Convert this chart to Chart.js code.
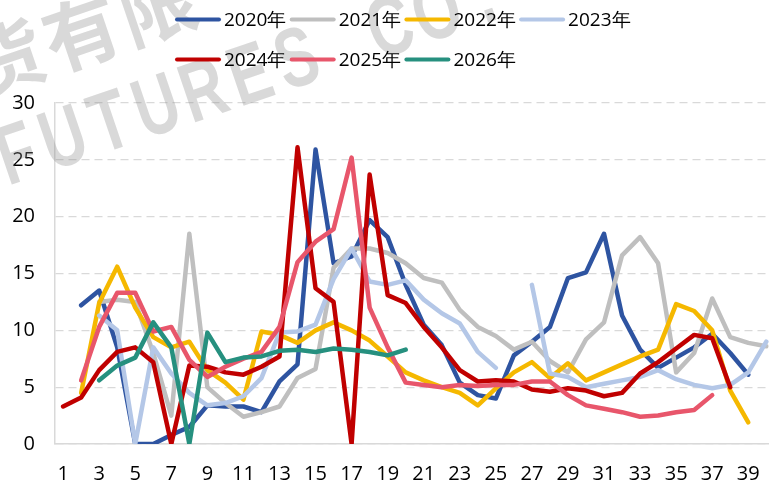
<!DOCTYPE html>
<html>
<head>
<meta charset="utf-8">
<script src="https://cdn.jsdelivr.net/npm/chart.js@4/dist/chart.umd.min.js"></script>
<style>
html,body{margin:0;padding:0;background:#fff;overflow:hidden;}
#wrap{width:769px;height:484px;position:relative;}
</style>
</head>
<body>
<div id="wrap"><canvas id="c" width="769" height="484"></canvas></div>
<script>
const categories = [1,2,3,4,5,6,7,8,9,10,11,12,13,14,15,16,17,18,19,20,21,22,23,24,25,26,27,28,29,30,31,32,33,34,35,36,37,38,39,40];
const tickLabels = [1,3,5,7,9,11,13,15,17,19,21,23,25,27,29,31,33,35,37,39];
const seriesNames = ['2020年','2021年','2022年','2023年','2024年','2025年','2026年'];

const s2020 = [null,12.2,13.5,8.5,0,0,0.8,1.5,3.4,3.3,3.3,2.8,5.5,7.0,25.9,15.9,16.5,19.7,18.2,14.0,10.5,8.7,5.4,4.3,4.0,7.8,9.0,10.3,14.6,15.1,18.5,11.3,8.3,6.7,7.6,8.5,9.7,8.0,6.1,null];
const s2021 = [null,null,12.5,12.7,12.5,8.0,2.5,18.5,5.0,3.6,2.4,2.8,3.3,5.8,6.6,15.5,17.2,17.2,16.8,15.9,14.6,14.2,11.8,10.3,9.5,8.3,9.0,7.3,6.3,9.2,10.7,16.6,18.2,15.9,6.3,8.0,12.8,9.4,8.9,8.6];
const s2022 = [null,4.5,12.4,15.6,12.0,9.4,8.5,9.0,6.5,5.4,3.9,9.9,9.6,8.9,10.0,10.7,10.0,9.1,7.7,6.3,5.6,5.0,4.5,3.4,4.9,6.3,7.2,5.8,7.1,5.6,6.3,7.0,7.7,8.3,12.3,11.7,10.0,4.7,1.9,null];
const s2023 = [null,null,11.3,10.0,0,8.5,6.2,4.5,3.4,3.6,4.2,5.8,9.8,9.9,10.5,14.5,17.2,14.3,14.0,14.4,12.7,11.5,10.6,8.1,6.7,null,14.0,6.2,5.9,5.0,5.3,5.6,5.9,6.5,5.7,5.2,4.9,5.2,6.3,9.0];
const s2024 = [3.3,4.1,6.5,8.1,8.5,7.2,0,6.9,6.8,6.3,6.1,6.8,7.7,26.1,13.7,12.5,0,23.7,13.1,12.4,10.3,8.5,6.5,5.5,5.6,5.5,4.8,4.6,4.9,4.7,4.2,4.5,6.2,7.2,8.4,9.6,9.3,5.0,null,null];
const s2025 = [null,5.6,10.3,13.3,13.3,9.9,10.3,7.4,5.9,6.8,7.5,8.1,10.3,16.0,17.8,18.9,25.2,12.0,8.5,5.4,5.2,5.0,5.2,5.1,5.2,5.2,5.5,5.5,4.3,3.4,3.1,2.8,2.4,2.5,2.8,3.0,4.3,null,null,null];
const s2026 = [null,null,5.6,6.9,7.6,10.7,8.5,0,9.8,7.2,7.6,7.7,8.2,8.3,8.1,8.4,8.3,8.1,7.8,8.3,null,null,null,null,null,null,null,null,null,null,null,null,null,null,null,null,null,null,null,null];

const allSeries = [s2020,s2021,s2022,s2023,s2024,s2025,s2026];
const colors = ['#2E54A1','#BFBFBF','#F5B800','#B4C7E7','#C00000','#E8566B','#26907F'];
const FONT = "'Open Sans', 'Noto Sans', sans-serif";

const datasets = allSeries.map((vals, i) => ({
  label: seriesNames[i],
  data: categories.map((c, j) => ({x: c, y: vals[j]})),
  borderColor: colors[i],
  backgroundColor: colors[i],
  borderWidth: 4.5,
  pointRadius: 0,
  pointHoverRadius: 0,
  tension: 0,
  spanGaps: false,
  borderJoinStyle: 'round',
  borderCapStyle: 'round',
  order: allSeries.length - i
}));

const watermark = {
  id: 'watermark',
  beforeDatasetsDraw(chart) {
    const ctx = chart.ctx;
    ctx.save();
    ctx.fillStyle = 'rgba(140,140,140,0.33)';
    ctx.textAlign = 'center';
    ctx.textBaseline = 'middle';
    const th = -18.8 * Math.PI / 180;
    const dx = Math.cos(th), dy = Math.sin(th);
    const latin = 'FUTURES CO.';
    ctx.font = "bold 84px 'Liberation Sans', sans-serif";
    for (let k = 0; k < latin.length; k++) {
      const ch = latin[k];
      if (ch === ' ') continue;
      const x = 18 + k * 49.3 * dx, y = 158 + k * 49.3 * dy;
      ctx.save(); ctx.translate(x, y); ctx.rotate(th); ctx.scale(0.72, 1); ctx.fillText(ch, 0, 0); ctx.restore();
    }
    const cn = '期货有限';
    ctx.font = "bold 76px 'Noto Sans CJK SC', sans-serif";
    for (let k = 0; k < cn.length; k++) {
      const x = -70 + k * 80 * dx, y = 84 + k * 80 * dy;
      ctx.save(); ctx.translate(x, y); ctx.rotate(th); ctx.fillText(cn[k], 0, 0); ctx.restore();
    }
    ctx.restore();
  }
};

const customLegend = {
  id: 'customLegend',
  afterDraw(chart) {
    const ctx = chart.ctx;
    ctx.save();
    ctx.font = "19px " + FONT;
    ctx.textBaseline = 'middle';
    ctx.textAlign = 'left';
    chart.data.datasets.forEach((ds, i) => {
      const row = i < 4 ? 0 : 1;
      const col = i < 4 ? i : i - 4;
      const x = 177 + col * 114.7;
      const y = row === 0 ? 19.5 : 59.5;
      ctx.strokeStyle = ds.borderColor;
      ctx.lineWidth = 4;
      ctx.lineCap = 'round';
      ctx.beginPath(); ctx.moveTo(x, y); ctx.lineTo(x + 42, y); ctx.stroke();
      ctx.fillStyle = '#000';
      ctx.fillText(ds.label, x + 47, y + 1);
    });
    ctx.restore();
  }
};

new Chart(document.getElementById('c'), {
  type: 'line',
  data: { datasets },
  options: {
    responsive: false,
    animation: false,
    devicePixelRatio: 1,
    layout: { padding: { top: 103, left: 0, right: 0, bottom: 0 } },
    plugins: { legend: { display: false }, tooltip: { enabled: false } },
    scales: {
      x: {
        type: 'linear',
        min: 0.55,
        max: 40.15,
        afterBuildTicks: s => { s.ticks = tickLabels.map(v => ({ value: v })); },
        afterFit: s => { s.height = 40; s.paddingLeft = 0; s.paddingRight = 0; },
        grid: { display: false, drawTicks: false },
        border: { display: true, color: '#D9D9D9', width: 1.5 },
        ticks: { padding: 18, autoSkip: false, maxRotation: 0, color: '#000', font: { size: 20, family: FONT } }
      },
      y: {
        min: 0,
        max: 30,
        afterFit: s => { s.width = 55; },
        grid: { color: '#D9D9D9', lineWidth: 1.2, drawTicks: false },
        border: { display: true, color: '#D9D9D9', width: 1.5, dash: [8, 5] },
        ticks: { stepSize: 5, padding: 20, color: '#000', font: { size: 20, family: FONT } }
      }
    }
  },
  plugins: [watermark, customLegend]
});
</script>
</body>
</html>
